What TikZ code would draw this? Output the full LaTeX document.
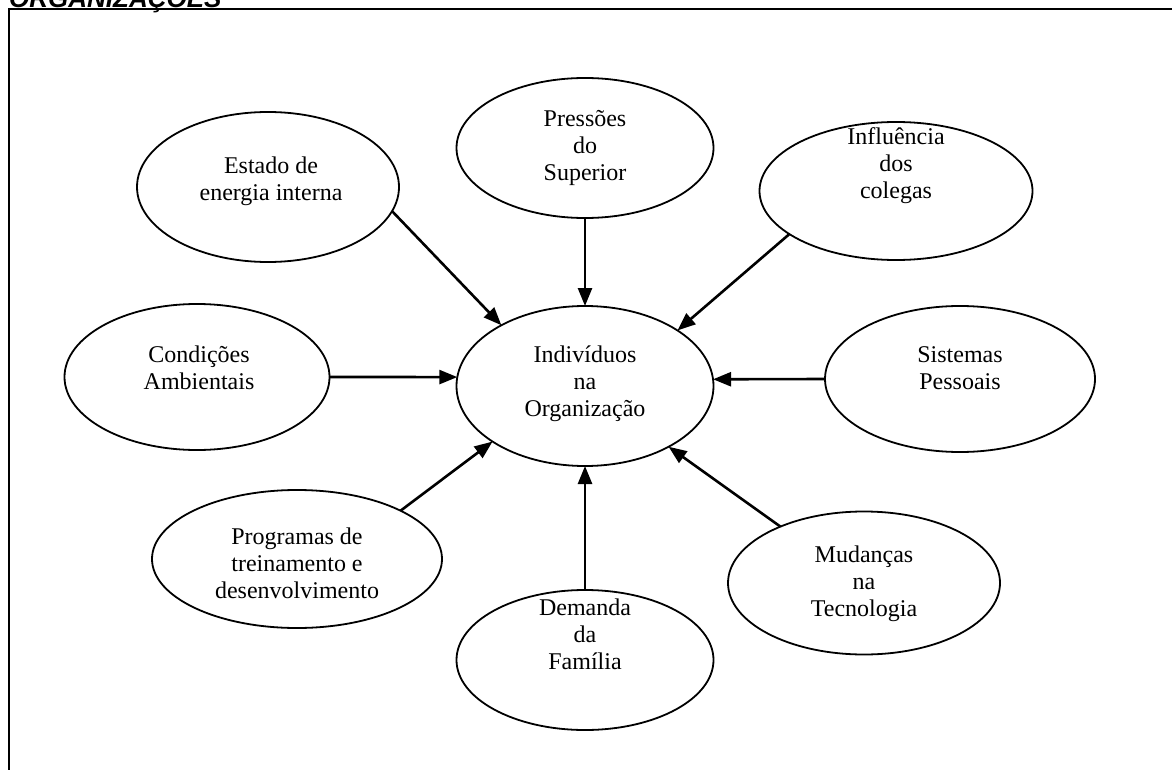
\documentclass[tikz,border=0pt]{standalone}
\usepackage{fontspec}
\setmainfont{Liberation Serif}
\newfontfamily\titlefont{Liberation Sans}
\usetikzlibrary{arrows.meta,shapes.geometric}
\begin{document}
\begin{tikzpicture}[x=1pt,y=-1pt,
  oval/.style={draw,ellipse,line width=1.8pt,inner sep=0pt,outer sep=0pt},
  lbl/.style={align=center,inner sep=0pt,font=\fontsize{24}{27}\selectfont},
  arr/.style={line width=2.6pt,-{Triangle[length=18pt,width=14pt]}},
  frame/.style={line width=2pt}]
\useasboundingbox (0,0) rectangle (1172,770);
\fill[white] (0,0) rectangle (1172,770);
\node[anchor=base west,inner sep=0pt,font=\titlefont\bfseries\itshape\fontsize{26}{30}\selectfont] (title) at (9,8) {ORGANIZAÇÕES};
\draw[frame] (1200,9.5) -- (8.5,9.5) -- (8.5,800);
% ellipses
\node[oval,minimum width=257pt,minimum height=160pt] (C) at (585,386) {};
\node[oval,minimum width=257pt,minimum height=140pt] (P) at (585,148) {};
\node[oval,minimum width=262pt,minimum height=150pt] (E) at (268,187) {};
\node[oval,minimum width=273pt,minimum height=138pt] (I) at (896,191) {};
\node[oval,minimum width=265pt,minimum height=146pt] (K) at (197,377) {};
\node[oval,minimum width=270pt,minimum height=146pt] (S) at (960,379) {};
\node[oval,minimum width=290pt,minimum height=138pt] (G) at (297,559) {};
\node[oval,minimum width=257pt,minimum height=140pt] (D) at (585,660) {};
\node[oval,minimum width=272pt,minimum height=143pt] (M) at (864,583) {};
% texts
\node[lbl] (Ct) at (585,384) {Indivíduos\\na\\Organização};
\node[lbl] (Pt) at (585,148) {Pressões\\do\\Superior};
\node[lbl] (Et) at (271,181) {Estado de\\energia interna};
\node[lbl] (It) at (896,166) {Influência\\dos\\colegas};
\node[lbl] (Kt) at (199,368) {Condições\\Ambientais};
\node[lbl] (St) at (960,368) {Sistemas\\Pessoais};
\node[lbl] (Gt) at (297,563) {Programas de\\treinamento e\\desenvolvimento};
\node[lbl] (Dt) at (585,634) {Demanda\\da\\Família};
\node[lbl] (Mt) at (864,584) {Mudanças\\na\\Tecnologia};
% arrows
\draw[arr] (E.-11.4) -- (C.144.4);
\draw[arr] (P.south) -- (C.north);
\draw[arr] (I.202.5) -- (C.31);
\draw[arr] (K.east) -- (C.176);
\draw[arr] (S.west) -- (C.3);
\draw[arr] (G.25) -- (C.211.5);
\draw[arr] (D.north) -- (C.south);
\draw[arr] (M.146.3) -- (C.-36.3);
\end{tikzpicture}
\end{document}
